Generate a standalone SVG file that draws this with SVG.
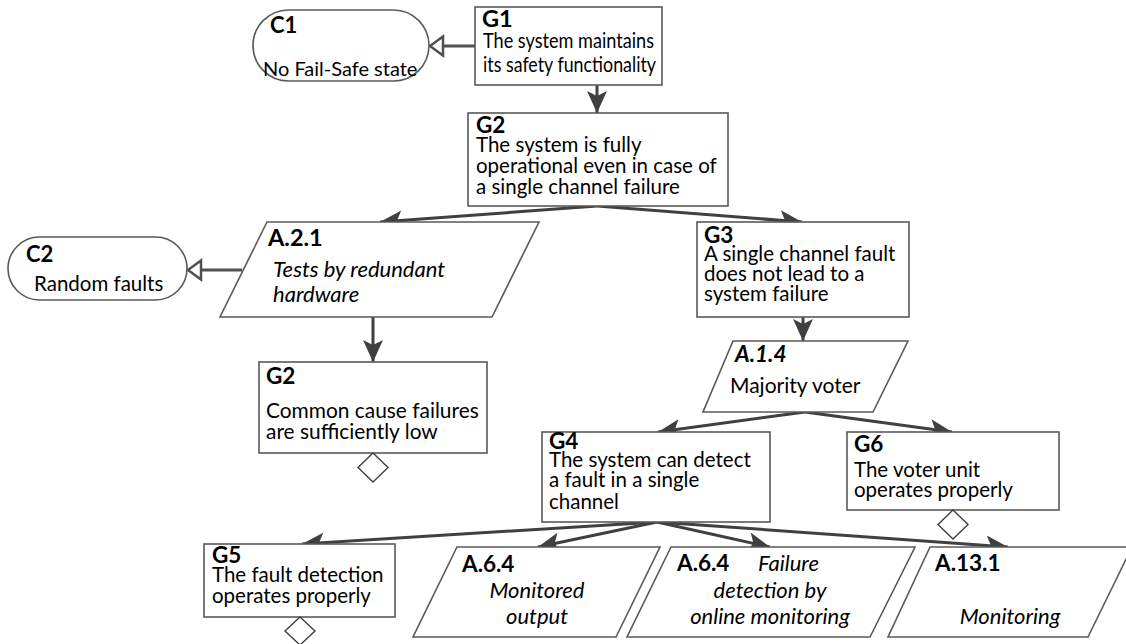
<svg xmlns="http://www.w3.org/2000/svg" width="1126" height="644" viewBox="0 0 1126 644">
  <style>
    .box { fill: #ffffff; stroke: #595959; stroke-width: 1.6; }
    .diamond { fill: #ffffff; stroke: #404040; stroke-width: 1.4; }
    .edge { fill: none; stroke: #404040; stroke-width: 3; }
    .ctx { fill: none; stroke: #505050; stroke-width: 3; }
    text { font-family: Lato, "Noto Sans", "Liberation Sans", sans-serif; fill: #000000; font-size: 20.5px; }
    .id { font-weight: bold; font-size: 22.5px; }
    .it { font-style: italic; font-size: 22px; }
    .mid { text-anchor: middle; }
  </style>
  <defs>
    <marker id="solid" viewBox="0 0 22 20" refX="22" refY="10" markerWidth="22" markerHeight="20" markerUnits="userSpaceOnUse" orient="auto">
      <path d="M22,10 L0,0 L5,10 L0,20 Z" fill="#404040"/>
    </marker>
    <marker id="hollow" viewBox="0 0 18 24" refX="16" refY="12" markerWidth="18" markerHeight="24" markerUnits="userSpaceOnUse" orient="auto">
      <path d="M16,12 L3,2.5 L3,21.5 Z" fill="#ffffff" stroke="#505050" stroke-width="2.5" stroke-linejoin="miter"/>
    </marker>
  </defs>

  <!-- connectors -->
  <g id="connectors">
    <line class="ctx" x1="475" y1="46" x2="430" y2="46" marker-end="url(#hollow)"/>
    <line class="ctx" x1="242" y1="270" x2="188" y2="270" marker-end="url(#hollow)"/>
    <line class="edge" x1="597" y1="85" x2="597" y2="113" marker-end="url(#solid)"/>
    <line class="edge" x1="597" y1="206" x2="380" y2="222" marker-end="url(#solid)"/>
    <line class="edge" x1="597" y1="206" x2="802" y2="222" marker-end="url(#solid)"/>
    <line class="edge" x1="373" y1="317" x2="373" y2="362" marker-end="url(#solid)"/>
    <line class="edge" x1="803" y1="317" x2="803" y2="341" marker-end="url(#solid)"/>
    <line class="edge" x1="805" y1="412" x2="658" y2="432" marker-end="url(#solid)"/>
    <line class="edge" x1="805" y1="412" x2="952" y2="432" marker-end="url(#solid)"/>
    <line class="edge" x1="657" y1="522" x2="302" y2="544" marker-end="url(#solid)"/>
    <line class="edge" x1="657" y1="522" x2="538" y2="547" marker-end="url(#solid)"/>
    <line class="edge" x1="657" y1="522" x2="770" y2="547" marker-end="url(#solid)"/>
    <line class="edge" x1="657" y1="522" x2="1008" y2="547" marker-end="url(#solid)"/>
  </g>

  <g id="C1">
    <rect class="box" x="253" y="10" width="176" height="71" rx="35.5"/>
    <text class="id" x="270" y="33" style="font-size:22px">C1</text>
    <text x="263" y="76" style="font-size:20px">No Fail-Safe state</text>
  </g>

  <g id="G1">
    <rect class="box" x="475" y="7" width="187" height="78"/>
    <text class="id" x="482" y="27" style="font-size:23.5px">G1</text>
    <text x="483" y="48" style="font-size:21.5px" textLength="171" lengthAdjust="spacingAndGlyphs">The system maintains</text>
    <text x="483" y="72" style="font-size:21.5px" textLength="173" lengthAdjust="spacingAndGlyphs">its safety functionality</text>
  </g>

  <g id="G2">
    <rect class="box" x="468" y="113" width="260" height="93"/>
    <text class="id" x="476" y="133">G2</text>
    <text x="476" y="152">The system is fully</text>
    <text x="476" y="173">operational even in case of</text>
    <text x="476" y="194">a single channel failure</text>
  </g>

  <g id="C2">
    <rect class="box" x="8" y="237" width="179" height="63" rx="31.5"/>
    <text class="id" x="26" y="262" style="font-size:22px">C2</text>
    <text x="34" y="291">Random faults</text>
  </g>

  <g id="A.2.1">
    <polygon class="box" points="267,222 539,222 492,317 220,317"/>
    <text class="id" x="268" y="246" style="font-size:23.5px">A.2.1</text>
    <text class="it" x="273" y="277">Tests by redundant</text>
    <text class="it" x="273" y="302">hardware</text>
  </g>

  <g id="G3">
    <rect class="box" x="697" y="222" width="212" height="95"/>
    <text class="id" x="704" y="243">G3</text>
    <text x="704" y="261">A single channel fault</text>
    <text x="704" y="281">does not lead to a</text>
    <text x="704" y="301">system failure</text>
  </g>

  <g id="G2b">
    <rect class="box" x="259" y="362" width="228" height="91"/>
    <text class="id" x="266" y="384">G2</text>
    <text x="266" y="418" style="font-size:20.9px">Common cause failures</text>
    <text x="266" y="439" style="font-size:20.9px">are sufficiently low</text>
    <polygon class="diamond" points="373,453 388,467.5 373,482 358,467.5"/>
  </g>

  <g id="A.1.4">
    <polygon class="box" points="733,341 908,341 873,412 703,412"/>
    <text class="id" x="735" y="362" style="font-style:italic">A.1.4</text>
    <text x="730" y="393" style="font-size:21px">Majority voter</text>
  </g>

  <g id="G4">
    <rect class="box" x="542" y="432" width="228" height="90"/>
    <text class="id" x="549" y="449">G4</text>
    <text x="549" y="467">The system can detect</text>
    <text x="549" y="487">a fault in a single</text>
    <text x="549" y="509">channel</text>
  </g>

  <g id="G6">
    <rect class="box" x="847" y="432" width="212" height="78"/>
    <text class="id" x="854" y="452">G6</text>
    <text x="854" y="477">The voter unit</text>
    <text x="854" y="497">operates properly</text>
    <polygon class="diamond" points="953,510 968,524.5 953,539 938,524.5"/>
  </g>

  <g id="G5">
    <rect class="box" x="204" y="544" width="191" height="73"/>
    <text class="id" x="212" y="563">G5</text>
    <text x="212" y="582">The fault detection</text>
    <text x="212" y="603">operates properly</text>
    <polygon class="diamond" points="300,617 315,631 300,645 285,631"/>
  </g>

  <g id="A.6.4-output">
    <polygon class="box" points="457,547 660,547 616,637 413,637"/>
    <text class="id" x="462" y="572">A.6.4</text>
    <text class="it mid" x="537" y="598">Monitored</text>
    <text class="it mid" x="537" y="624">output</text>
  </g>

  <g id="A.6.4-online">
    <polygon class="box" points="671,547 915,547 870,637 627,637"/>
    <text class="id" x="677" y="571">A.6.4</text>
    <text class="it" x="758" y="571">Failure</text>
    <text class="it mid" x="770" y="598">detection by</text>
    <text class="it mid" x="770" y="624">online monitoring</text>
  </g>

  <g id="A.13.1">
    <polygon class="box" points="930,547 1132,547 1088,637 888,637"/>
    <text class="id" x="935" y="571">A.13.1</text>
    <text class="it mid" x="1010" y="624">Monitoring</text>
  </g>
</svg>
